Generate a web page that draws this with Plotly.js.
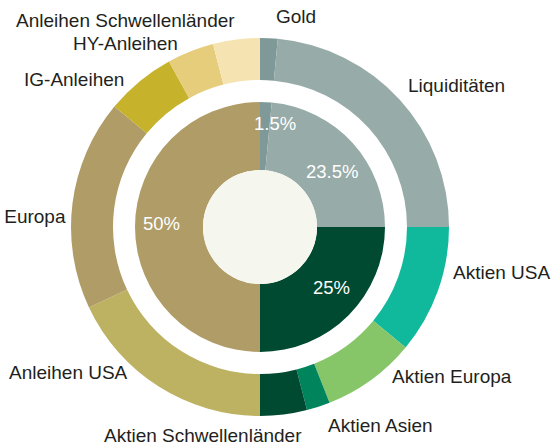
<!DOCTYPE html>
<html>
<head>
<meta charset="utf-8">
<script src="https://cdn.plot.ly/plotly-3.0.1.min.js"></script>
<style>html,body{margin:0;padding:0;background:#fff;}#chart{width:560px;height:444px;}</style>
</head>
<body>
<div id="chart"></div>
<script>
// Outer ring: sub-categories (percent of portfolio)
const outerLabels = ["Gold", "Liquiditäten", "Aktien USA", "Aktien Europa", "Aktien Asien",
  "Aktien Schwellenländer", "Anleihen USA", "Anleihen Europa", "IG-Anleihen", "HY-Anleihen",
  "Anleihen Schwellenländer"];
const outerValues = [1.5, 23.5, 11, 8, 2, 4, 18, 18, 6, 4, 4];
const outerColors = ["#7f9999", "#97aba8", "#10b99b", "#86c668", "#00845b", "#004a32",
  "#bdb262", "#b09c66", "#c7b22c", "#e6cd7b", "#f5e4b1"];

// Inner pie: asset classes
const innerLabels = ["Gold", "Liquidität", "Aktien", "Anleihen"];
const innerValues = [1.5, 23.5, 25, 50];
const innerText = ["1.5%", "23.5%", "25%", "50%"];
const innerColors = ["#7f9999", "#97aba8", "#004a32", "#b09c66"];

// ---- layout / style settings (not data) ----
const W = 560, H = 444;
const cx = 260, cy = 227;           // pie centre, px
const rOuter = 189, rOuterHole = 147, rInner = 125, rCenter = 57;
const outerLabelRadius = 200, innerLabelRadius = 97;
// small label nudges (px) to reproduce the reference's label placement
const outerNudge = [[6, -11], [-1, -7], [4, -22], [13, -12], [5, 8], [18, 10],
  [-24, -23], [5, 15], [-8, 7], [-7, 2], [1, -8]];
const innerNudge = [[10, -7], [0, 10], [3, -8], [-2, -4]];

function dom(r) {
  return {
    x: [(cx - r) / W, (cx + r) / W],
    y: [1 - (cy + r) / H, 1 - (cy - r) / H]
  };
}

const font = "Liberation Sans, Arial, Helvetica, sans-serif";

const outer = {
  type: "pie", labels: outerLabels, values: outerValues, sort: false,
  direction: "clockwise", rotation: 0, hole: rOuterHole / rOuter,
  domain: dom(rOuter),
  marker: {colors: outerColors, line: {width: 0}},
  textinfo: "none", hoverinfo: "none"
};
const inner = {
  type: "pie", labels: innerLabels, values: innerValues, sort: false,
  direction: "clockwise", rotation: 0, hole: rCenter / rInner,
  domain: dom(rInner),
  marker: {colors: innerColors, line: {width: 0}},
  textinfo: "none", hoverinfo: "none"
};
const centre = {
  type: "pie", labels: ["centre"], values: [1], sort: false,
  domain: dom(rCenter),
  marker: {colors: ["#f5f6ee"], line: {width: 0}},
  textinfo: "none", hoverinfo: "none"
};

function midAngles(vals) {
  const tot = vals.reduce((a, b) => a + b, 0);
  let c = 0;
  return vals.map(v => { const m = (c + v / 2) / tot * 2 * Math.PI; c += v; return m; });
}

const annotations = [];
midAngles(innerValues).forEach((m, i) => {
  const px = cx + innerLabelRadius * Math.sin(m) + innerNudge[i][0];
  const py = cy - innerLabelRadius * Math.cos(m) + innerNudge[i][1];
  annotations.push({
    x: px / W, y: 1 - py / H, xref: "paper", yref: "paper",
    xanchor: "center", yanchor: "middle",
    text: innerText[i], showarrow: false,
    font: {family: font, size: 18.5, color: "#ffffff"}
  });
});
midAngles(outerValues).forEach((m, i) => {
  const deg = m * 180 / Math.PI;
  const px = cx + outerLabelRadius * Math.sin(m) + outerNudge[i][0];
  const py = cy - outerLabelRadius * Math.cos(m) + outerNudge[i][1];
  annotations.push({
    x: px / W, y: 1 - py / H, xref: "paper", yref: "paper",
    xanchor: deg < 170 ? "left" : "right", yanchor: "middle",
    text: outerLabels[i], showarrow: false, borderpad: 0,
    font: {family: font, size: 19, color: "#231f20"}
  });
});

const layout = {
  width: W, height: H, margin: {l: 0, r: 0, t: 0, b: 0},
  paper_bgcolor: "#ffffff", plot_bgcolor: "#ffffff",
  showlegend: false, annotations: annotations
};

Plotly.newPlot("chart", [outer, inner, centre], layout, {staticPlot: true, displayModeBar: false});
</script>
</body>
</html>
